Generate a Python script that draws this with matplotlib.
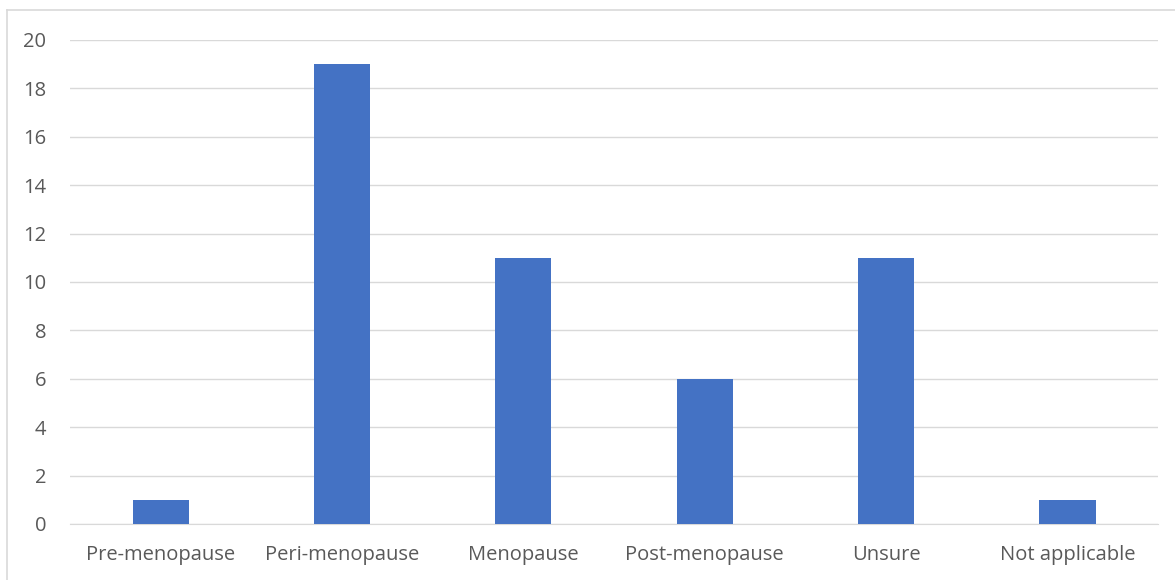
import matplotlib.pyplot as plt
from matplotlib.lines import Line2D

# Menopause stage responses
stages = ["Pre-menopause", "Peri-menopause", "Menopause",
          "Post-menopause", "Unsure", "Not applicable"]
counts = [1, 19, 11, 6, 11, 1]
y_ticks = list(range(0, 21, 2))

plt.rcParams['font.family'] = ['Open Sans', 'DejaVu Sans']

fig = plt.figure(figsize=(11.75, 5.8), dpi=100)
ax = fig.add_axes([0.0596, 0.0966, 0.926, 0.8345])

ax.bar(range(len(stages)), counts, width=0.31, color='#4472C4', zorder=3)

ax.set_xlim(-0.5, len(stages) - 0.5)
ax.set_ylim(0, 20)
ax.set_yticks(y_ticks)
ax.set_xticks(range(len(stages)))
ax.set_xticklabels(stages)
ax.grid(axis='y', color='#D9D9D9', linewidth=1, zorder=0)

for side in ['top', 'right', 'left']:
    ax.spines[side].set_visible(False)
ax.spines['bottom'].set_color('#D9D9D9')
ax.tick_params(axis='both', length=0, labelsize=14.5, colors='#595959')
ax.tick_params(axis='y', pad=17)
ax.tick_params(axis='x', pad=15)

# light frame along the left and top of the chart
frame_x, frame_y = 7 / 1175, 1 - 10 / 580
fig.add_artist(Line2D([frame_x, frame_x], [0, frame_y], transform=fig.transFigure,
                      color='#D9D9D9', linewidth=1.2))
fig.add_artist(Line2D([frame_x, 1], [frame_y, frame_y], transform=fig.transFigure,
                      color='#D9D9D9', linewidth=1.2))

fig.savefig('out.png', dpi=100)
